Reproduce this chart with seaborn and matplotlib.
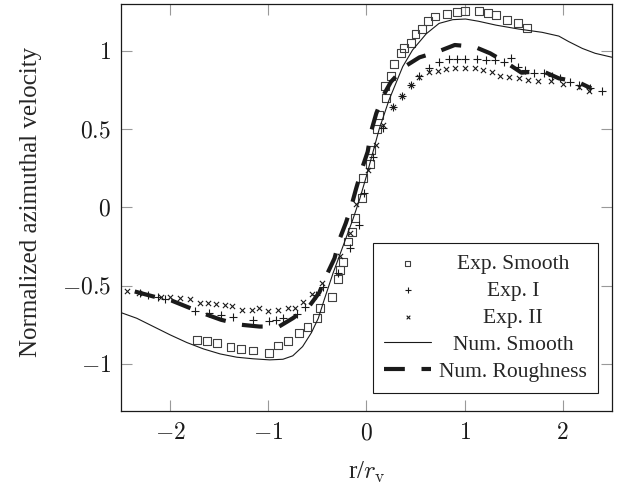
import matplotlib
matplotlib.use("Agg")
import matplotlib.pyplot as plt
import seaborn as sns
from matplotlib.ticker import FixedLocator, FuncFormatter

# values
exp_smooth_r = [-1.725, -1.62, -1.52, -1.385, -1.28, -1.155, -0.995, -0.90, -0.80,
                -0.69, -0.60, -0.505, -0.47, -0.35, -0.29, -0.27, -0.235, -0.19,
                -0.15, -0.115, -0.045, -0.035, 0.04, 0.05, 0.105, 0.13, 0.19, 0.20,
                0.25, 0.28, 0.35, 0.38, 0.45, 0.50, 0.57, 0.63, 0.70, 0.82, 0.92,
                1.0, 1.15, 1.24, 1.32, 1.43, 1.54, 1.64]
exp_smooth_v = [-0.846, -0.852, -0.867, -0.889, -0.906, -0.914, -0.931, -0.882, -0.852,
                -0.80, -0.765, -0.708, -0.644, -0.57, -0.459, -0.40, -0.35, -0.218,
                -0.155, -0.069, 0.059, 0.186, 0.28, 0.367, 0.50, 0.59, 0.776, 0.70,
                0.84, 0.914, 0.985, 1.02, 1.05, 1.11, 1.14, 1.19, 1.22, 1.235, 1.25,
                1.255, 1.255, 1.24, 1.227, 1.197, 1.176, 1.148]

exp1_r = [-2.31, -2.22, -2.12, -2.05, -1.75, -1.60, -1.48, -1.36, -1.16, -0.99,
          -0.92, -0.85, -0.71, -0.63, -0.51, -0.44, -0.29, -0.17, -0.08, -0.02,
          0.065, 0.166, 0.27, 0.36, 0.45, 0.54, 0.64, 0.735, 0.84, 0.92, 1.0,
          1.13, 1.22, 1.31, 1.40, 1.47, 1.54, 1.62, 1.71, 1.81, 1.89, 1.97,
          2.07, 2.17, 2.28, 2.40]
exp1_v = [-0.548, -0.56, -0.572, -0.586, -0.659, -0.674, -0.686, -0.697, -0.72, -0.726,
          -0.716, -0.705, -0.678, -0.635, -0.559, -0.51, -0.416, -0.26, -0.115, 0.09,
          0.32, 0.506, 0.64, 0.71, 0.78, 0.84, 0.889, 0.927, 0.946, 0.946, 0.946,
          0.946, 0.942, 0.942, 0.929, 0.953, 0.90, 0.878, 0.861, 0.857, 0.84, 0.829,
          0.80, 0.782, 0.761, 0.745]

exp2_r = [-2.44, -2.32, -2.09, -2.0, -1.9, -1.8, -1.70, -1.61, -1.53, -1.44,
          -1.37, -1.27, -1.17, -1.09, -1.0, -0.90, -0.80, -0.73, -0.65, -0.555,
          -0.45, -0.27, -0.17, -0.105, 0.013, 0.10, 0.166, 0.27, 0.36, 0.45,
          0.54, 0.64, 0.725, 0.81, 0.90, 1.0, 1.11, 1.19, 1.28, 1.36, 1.45,
          1.55, 1.65, 1.75, 1.88, 2.0, 2.17, 2.27]
exp2_v = [-0.537, -0.544, -0.57, -0.57, -0.58, -0.586, -0.612, -0.612, -0.618, -0.622,
          -0.631, -0.654, -0.654, -0.644, -0.659, -0.654, -0.644, -0.644, -0.605, -0.555,
          -0.48, -0.31, -0.165, 0.02, 0.24, 0.40, 0.527, 0.64, 0.71, 0.78,
          0.835, 0.867, 0.872, 0.882, 0.889, 0.893, 0.889, 0.878, 0.867, 0.84, 0.831,
          0.825, 0.814, 0.81, 0.81, 0.789, 0.771, 0.746]

num_smooth_r = [-2.5, -2.34, -2.17, -2.0, -1.83, -1.66, -1.49, -1.32, -1.155, -0.985,
                -0.85, -0.75, -0.65, -0.56, -0.49, -0.43, -0.34, -0.24, -0.14, -0.07,
                0.0, 0.13, 0.23, 0.37, 0.47, 0.61, 0.74, 0.88, 1.01, 1.14, 1.32,
                1.55, 1.79, 1.96, 2.06, 2.20, 2.33, 2.5]
num_smooth_v = [-0.672, -0.708, -0.761, -0.814, -0.863, -0.904, -0.936, -0.957, -0.967, -0.974,
                -0.97, -0.948, -0.889, -0.80, -0.708, -0.59, -0.42, -0.25, -0.08, 0.05,
                0.2, 0.5, 0.686, 0.90, 1.006, 1.11, 1.176, 1.20, 1.204, 1.19, 1.165,
                1.14, 1.119, 1.095, 1.06, 1.016, 0.985, 0.96]

num_rough_r = [-2.36, -2.17, -1.985, -1.82, -1.64, -1.48, -1.27, -1.09, -0.89, -0.75,
               -0.585, -0.48, -0.40, -0.325, -0.27, -0.21, -0.155, -0.105, -0.044, 0.013,
               0.05, 0.10, 0.166, 0.25, 0.40, 0.54, 0.725, 0.90, 1.10, 1.26, 1.436,
               1.58, 1.79, 1.96, 2.15, 2.29]
num_rough_v = [-0.537, -0.569, -0.595, -0.637, -0.682, -0.718, -0.75, -0.761, -0.761, -0.708,
               -0.633, -0.544, -0.425, -0.325, -0.197, -0.10, 0.005, 0.12, 0.25, 0.356,
               0.49, 0.60, 0.708, 0.803, 0.904, 0.959, 0.995, 1.038, 1.027, 0.985, 0.921,
               0.861, 0.872, 0.825, 0.803, 0.761]

x_ticks = [-2, -1, 0, 1, 2]
y_ticks = [-1, -0.5, 0, 0.5, 1]

sns.set_theme(style="ticks")
plt.rcParams["font.family"] = ["Liberation Serif", "DejaVu Serif"]
plt.rcParams["mathtext.fontset"] = "cm"

fig = plt.figure(figsize=(6.18, 4.88), dpi=100)
ax = fig.add_axes([0.1958, 0.158, 0.7942, 0.8338])

sns.scatterplot(x=exp_smooth_r, y=exp_smooth_v, marker="s", s=32, fc="none",
                ec="0.25", linewidth=0.8, ax=ax, label="Exp. Smooth")
sns.scatterplot(x=exp1_r, y=exp1_v, marker="+", s=40, color="k",
                linewidth=0.8, ax=ax, label="Exp. I")
sns.scatterplot(x=exp2_r, y=exp2_v, marker="x", s=14, color="k",
                linewidth=0.8, ax=ax, label="Exp. II")
sns.lineplot(x=num_smooth_r, y=num_smooth_v, color="k", lw=0.8, ax=ax,
             label="Num. Smooth")
sns.lineplot(x=num_rough_r, y=num_rough_v, color="k", lw=3, ax=ax,
             linestyle=(0, (5, 4)), label="Num. Roughness")

ax.set_xlim(-2.5, 2.5)
ax.set_ylim(-1.3, 1.3)
ax.xaxis.set_major_locator(FixedLocator(x_ticks))
ax.yaxis.set_major_locator(FixedLocator(y_ticks))
fmt = FuncFormatter(lambda v, p: "${:g}$".format(v))
ax.xaxis.set_major_formatter(fmt)
ax.yaxis.set_major_formatter(fmt)
ax.tick_params(direction="in", length=8, width=0.8, color="0.6",
               top=True, right=True, labelsize=17, labelcolor="k")
ax.tick_params(axis="x", pad=9)
ax.tick_params(axis="y", pad=7)
for sp in ax.spines.values():
    sp.set_color("k")
    sp.set_linewidth(0.9)

ax.set_ylabel("Normalized azimuthal velocity", fontsize=18)
ax.yaxis.set_label_coords(-0.161, 0.514)
ax.set_xlabel(r"r/$r_\mathrm{v}$", fontsize=18)
ax.xaxis.set_label_coords(0.5, -0.12)

handles, labels = ax.get_legend_handles_labels()
leg = ax.legend(handles, labels, loc="lower right", bbox_to_anchor=(0.971, 0.045),
                borderaxespad=0, fontsize=15.5, frameon=True, fancybox=False,
                edgecolor="k", framealpha=1, handlelength=2.2, markerscale=0.7,
                handletextpad=0.35, labelspacing=0.32, borderpad=0.5)
leg.get_frame().set_linewidth(0.8)

# centre the legend labels like the original
fig.canvas.draw()
texts = leg.get_texts()
widths = [t.get_window_extent().width for t in texts]
wmax = max(widths)
for t, w in zip(texts, widths):
    t.set_position(((wmax - w) / 2, 0))

fig.savefig("out.png", dpi=100)
